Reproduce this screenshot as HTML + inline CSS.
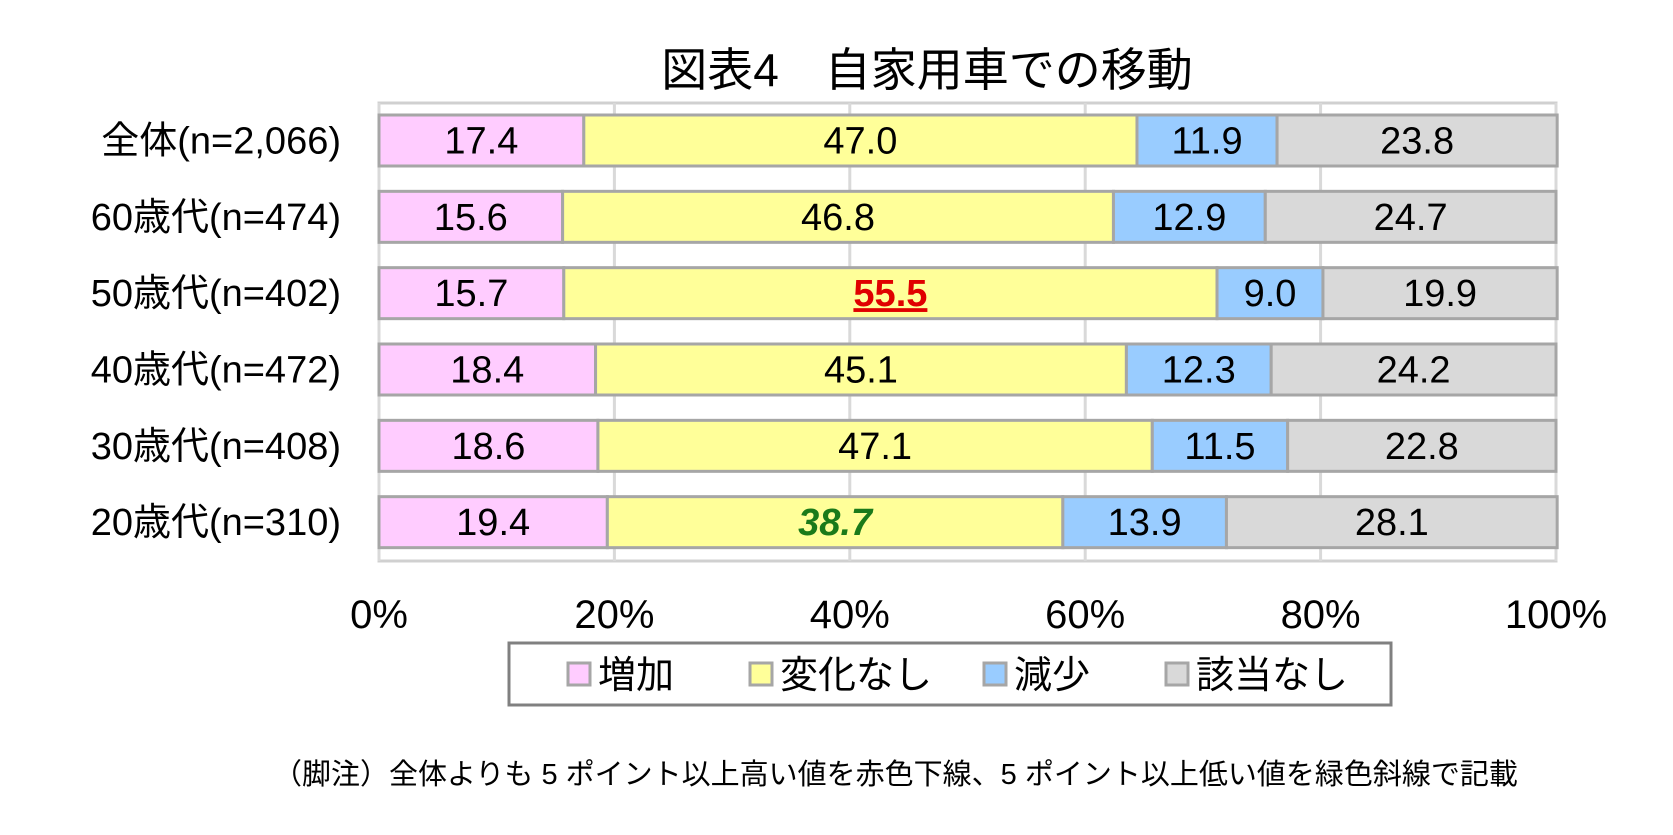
<!DOCTYPE html>
<html><head><meta charset="utf-8"><style>
body{margin:0;background:#fff;}
svg text{font-family:"Liberation Sans","Noto Sans CJK JP",sans-serif;}
</style></head><body>
<svg width="1673" height="830" xmlns="http://www.w3.org/2000/svg">
<rect width="1673" height="830" fill="#fff"/>
<text x="927" y="86" font-size="46" text-anchor="middle">図表4&#12288;自家用車での移動</text>
<g id="plot"></g>
<g id="legend"></g>
<text x="273" y="784" font-size="29">（脚注）全体よりも 5 ポイント以上高い値を赤色下線、5 ポイント以上低い値を緑色斜線で記載</text>
</svg>
<script>
const categories=["全体(n=2,066)","60歳代(n=474)","50歳代(n=402)","40歳代(n=472)","30歳代(n=408)","20歳代(n=310)"];
const seriesNames=["増加","変化なし","減少","該当なし"];
const increase=[17.4,15.6,15.7,18.4,18.6,19.4];
const noChange=[47.0,46.8,55.5,45.1,47.1,38.7];
const decrease=[11.9,12.9,9.0,12.3,11.5,13.9];
const notApplicable=[23.8,24.7,19.9,24.2,22.8,28.1];
const ticks=[0,20,40,60,80,100];
const highlights={"2-1":"high","5-1":"low"};
const colors=["#ffccff","#ffff99","#99ccff","#d9d9d9"];
const NS="http://www.w3.org/2000/svg";
const X0=379,X1=1556,Y0=103,Y1=561;
const x=v=>X0+(X1-X0)*v/100;
const band=(Y1-Y0)/categories.length;
const y=i=>Y0+band*i+12;
const BH=51;
const plot=document.getElementById('plot');
function mk(tag,attrs,parent){const e=document.createElementNS(NS,tag);for(const k in attrs)e.setAttribute(k,attrs[k]);parent.appendChild(e);return e;}
const frame=mk('rect',{x:X0,y:Y0,width:X1-X0,height:Y1-Y0,fill:'none',stroke:'#d0d0d0','stroke-width':3},plot);


ticks.forEach(t=>{
  const g=mk('line',{x1:x(t),x2:x(t),y1:Y0,y2:Y1,stroke:'#d9d9d9','stroke-width':3},plot);
  
  
  const tl=mk('text',{x:x(t),y:628,'font-size':40,'text-anchor':'middle'},plot);
  tl.textContent=t+'%';
  
  
});
const series=[increase,noChange,decrease,notApplicable];
categories.forEach((c,i)=>{
  const cl=mk('text',{x:341,y:y(i)+BH/2+13,'font-size':38,'text-anchor':'end'},plot);
  cl.textContent=c;
  
  
  let acc=0;
  series.forEach((s,j)=>{
    const v=s[i];
    const r=mk('rect',{x:x(acc),y:y(i),width:x(acc+v)-x(acc),height:BH,fill:colors[j],stroke:'#a6a6a6','stroke-width':3},plot);
    
    
    const h=highlights[i+'-'+j];
    const t=mk('text',{x:(x(acc)+x(acc+v))/2,y:y(i)+BH/2+13,'font-size':38,'text-anchor':'middle'},plot);
    t.textContent=v.toFixed(1);
    if(h==='high'){t.setAttribute('fill','#e00000');t.setAttribute('font-weight','bold');t.setAttribute('text-decoration','underline');}
    if(h==='low'){t.setAttribute('fill','#1a7a1a');t.setAttribute('font-weight','bold');t.setAttribute('font-style','italic');}
    
    
    acc+=v;
  });
});
const lg=document.getElementById('legend');
const lb=mk('rect',{x:509,y:643,width:882,height:62,fill:'#fff',stroke:'#808080','stroke-width':3},lg);


const lx=[568,750,984,1166];
seriesNames.forEach((n,j)=>{
  const sw=mk('rect',{x:lx[j],y:663,width:22,height:22,fill:colors[j],stroke:'#a6a6a6','stroke-width':3},lg);
  
  
  const t=mk('text',{x:lx[j]+30,y:688,'font-size':38},lg);
  t.textContent=n;
  
  
});
</script>
</body></html>
